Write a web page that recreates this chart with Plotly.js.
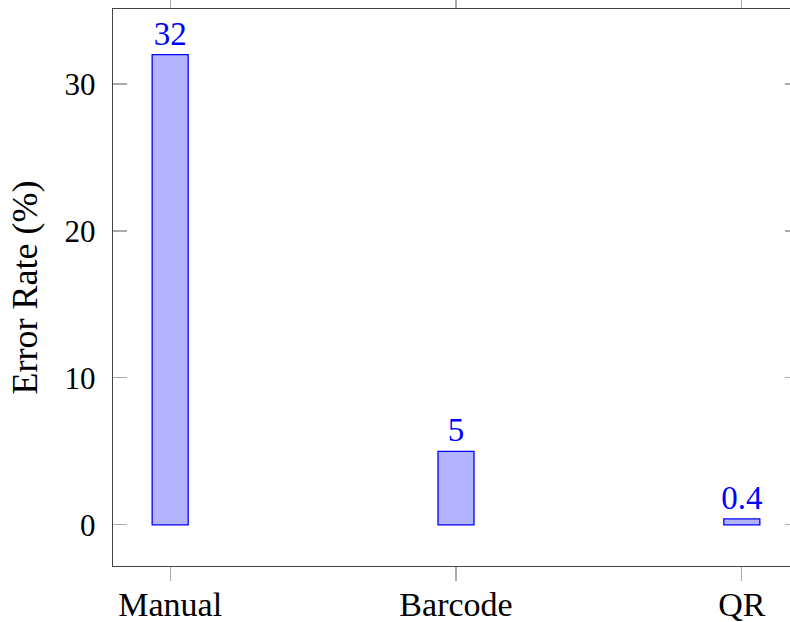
<!DOCTYPE html>
<html>
<head>
<meta charset="utf-8">
<script src="https://cdn.plot.ly/plotly-3.0.1.min.js"></script>
<style>
html, body { margin: 0; padding: 0; overflow: hidden; background: #fff; }
#chart { width: 800px; height: 622px; }
</style>
</head>
<body>
<div id="chart"></div>
<script>
const categories = ["Manual", "Barcode", "QR"];
const errorRates = [32, 5, 0.4];
const valueLabels = ["32", "5", "0.4"];
const yTickValues = [0, 10, 20, 30];
const yTickLabels = ["0", "10", "20", "30"];

const FONT = "'Liberation Serif', 'Times New Roman', serif";

const trace = {
  type: "bar",
  x: categories,
  y: errorRates,
  width: 0.126,
  marker: { color: "#b3b3ff", line: { color: "#0000ff", width: 1.3 } },
  text: valueLabels,
  textposition: "outside",
  constraintext: "none",
  cliponaxis: false,
  textfont: { family: FONT, size: 33, color: "#0000ff" },
  hoverinfo: "none"
};

const layout = {
  width: 800,
  height: 622,
  margin: { l: 113, r: 1, t: 9, b: 56, pad: 0 },
  paper_bgcolor: "#fff",
  plot_bgcolor: "#fff",
  showlegend: false,
  font: { family: FONT, size: 31, color: "#000" },
  xaxis: {
    type: "category",
    range: [-0.2, 2.2],
    showline: true,
    linecolor: "#444",
    linewidth: 1.3,
    mirror: "ticks",
    ticks: "outside",
    ticklen: 14,
    tickcolor: "#aaa",
    tickwidth: 1.2,
    showgrid: false,
    zeroline: false,
    ticklabelstandoff: -6,
    tickfont: { family: FONT, size: 34, color: "#000" }
  },
  yaxis: {
    range: [-2.8, 35.1],
    tickvals: yTickValues,
    ticktext: yTickLabels,
    showline: true,
    linecolor: "#444",
    linewidth: 1.3,
    mirror: "ticks",
    ticks: "inside",
    ticklen: 14,
    tickcolor: "#aaa",
    tickwidth: 1.2,
    showgrid: false,
    zeroline: false,
    ticklabelstandoff: 10,
    tickfont: { family: FONT, size: 31, color: "#000" },
    title: { text: "Error Rate (%)", standoff: 16, font: { family: FONT, size: 36, color: "#000" } }
  }
};

Plotly.newPlot("chart", [trace], layout, { staticPlot: true, displayModeBar: false });
</script>
</body>
</html>
